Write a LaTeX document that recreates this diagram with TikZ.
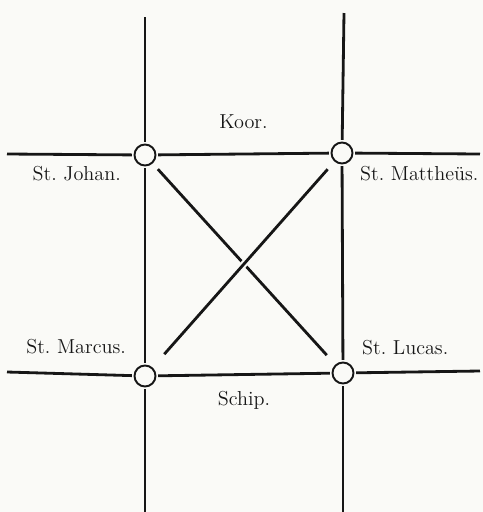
\documentclass[tikz,border=0pt]{standalone}
\usetikzlibrary{positioning}
\definecolor{InkDark}{HTML}{161616}
\definecolor{PaperWhite}{HTML}{FAFAF7}

\begin{document}
\begin{tikzpicture}[x=0.02cm, y=-0.02cm, every node/.style={font=\fontsize{11.5}{13}\selectfont, text=InkDark}]
    \fill[PaperWhite] (0,0) rectangle (483,512);
    \useasboundingbox (0,0) rectangle (483,512);
    \tikzset{pillar/.style={draw=InkDark, circle, line width=1.1pt, minimum size=0.42cm, inner sep=0pt, outer sep=1.5pt},
             wall/.style={draw=InkDark, line width=1.6pt},
             tag/.style={inner sep=0pt}}

    % Pillars
    \node[pillar] (johan) at (145,155) {};
    \node[pillar] (mattheus) at (342,153) {};
    \node[pillar] (marcus) at (145,376) {};
    \node[pillar] (lucas) at (343,373) {};

    % Free ends
    \coordinate (jn) at (145,17);
    \coordinate (jw) at (7,154);
    \coordinate (mn) at (344,13);
    \coordinate (me) at (480,154);
    \coordinate (ks) at (145,512);
    \coordinate (kw) at (7,372);
    \coordinate (ls) at (343,512);
    \coordinate (le) at (480,371);

    % Walls
    \draw[wall] (jn) -- (johan);
    \draw[wall] (jw) -- (johan);
    \draw[wall] (mn) -- (mattheus);
    \draw[wall] (mattheus) -- (me);
    \draw[wall] (marcus) -- (ks);
    \draw[wall] (kw) -- (marcus);
    \draw[wall] (lucas) -- (ls);
    \draw[wall] (lucas) -- (le);
    \draw[wall] (johan) -- node[above=0.36cm]{Koor.} (mattheus);
    \draw[wall] (marcus) -- node[below=0.2cm]{Schip.} (lucas);
    \draw[wall] (johan) -- (marcus);
    \draw[wall] (mattheus) -- (lucas);

    % Diagonals
    \draw[wall, shorten <=0.12cm, shorten >=0.22cm] (johan) -- (lucas);
    \draw[wall, shorten <=0.17cm, shorten >=0.32cm, preaction={draw=PaperWhite, line width=4pt}] (mattheus) -- (marcus);

    % Labels
    \node[tag, below left=0.03cm and 0.29cm of johan] (tjohan) {St.\ Johan.};
    \node[tag, below right=0.07cm and 0.17cm of mattheus] (tmattheus) {St.\ Mattheüs.};
    \node[tag, above left=0.25cm and 0.19cm of marcus] (tmarcus) {St.\ Marcus.};
    \node[tag, above right=0.16cm and 0.19cm of lucas] (tlucas) {St.\ Lucas.};
\end{tikzpicture}
\end{document}
